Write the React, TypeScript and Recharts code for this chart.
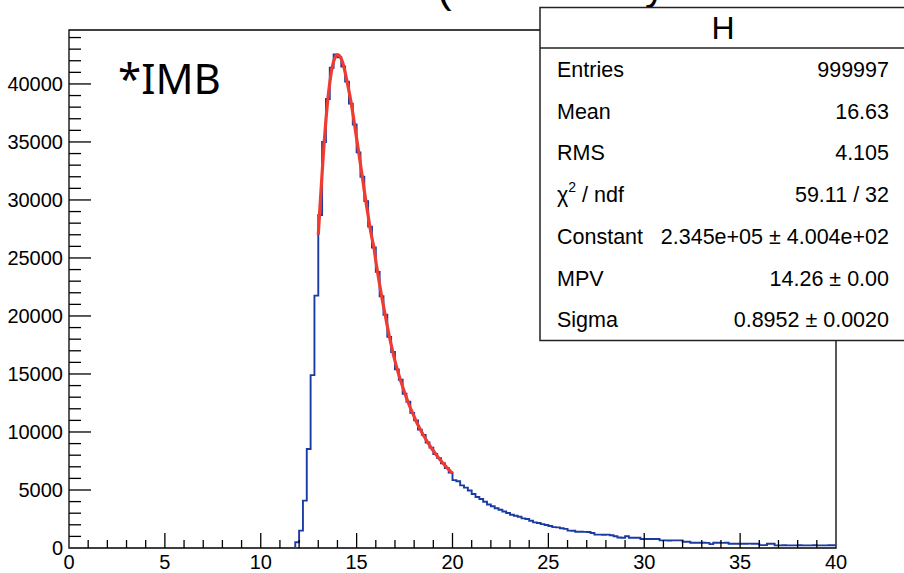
import React from "react";
import { ComposedChart, Line, XAxis, YAxis, ReferenceArea } from "recharts";

// Histogram: 200 bins of width 0.2 from 0 to 40 (counts)
const BIN_WIDTH = 0.2;
const histCounts: number[] = [
  0, 0, 0, 0, 0, 0, 0, 0, 0, 0, 0, 0, 0, 0, 0, 0, 0, 0, 0, 0,
  0, 0, 0, 0, 0, 0, 0, 0, 0, 0, 0, 0, 0, 0, 0, 0, 0, 0, 0, 0,
  0, 0, 0, 0, 0, 0, 0, 0, 0, 0, 0, 0, 0, 0, 0, 0, 0, 0, 0,
  500, 1500, 4080, 8530, 14900, 21750, 28700, 35000, 38700, 41400,
  42550, 42300, 41500, 40200, 38300, 36500, 34100, 32000, 29900, 27700,
  25900, 23800, 21700, 20100, 18200, 16900, 15400, 14500, 13300, 12600,
  11650, 11000, 10200, 9750, 9100, 8650, 8100, 7750, 7300, 6900,
  6500, 5850, 5750, 5400, 5200, 4950, 4650, 4400, 4220, 3990,
  3750, 3600, 3420, 3300, 3150, 3020, 2870, 2780, 2700, 2550,
  2500, 2350, 2210, 2150, 2060, 1980, 1900, 1800, 1780, 1700,
  1650, 1500, 1490, 1400, 1400, 1390, 1380, 1290, 1150, 1150,
  1140, 1150, 1100, 1010, 900, 890, 1010, 890, 880, 890,
  780, 776, 770, 780, 770, 660, 660, 650, 660, 655,
  660, 545, 540, 450, 450, 455, 450, 445, 330, 450,
  450, 445, 450, 370, 370, 365, 370, 370, 375, 370,
  370, 250, 250, 370, 365, 230, 230, 232, 230, 228,
  230, 231, 230, 229, 230, 232, 230, 229, 230, 231,
];

const FIT_START = 13.0;
const FIT_STEP = 0.1;
const fitValues: number[] = [
  27000, 29700, 32300, 34800, 36900, 38700, 40100, 41200, 41950, 42350,
  42500, 42450, 42150, 41700, 41000, 40200, 39400, 38500, 37500, 36400,
  35300, 34200, 33100, 31950, 30800, 29700, 28650, 27600, 26700, 25900,
  24750, 23700, 22700, 21750, 20850, 20000, 19120, 18300, 17530, 16800,
  16130, 15500, 14930, 14400, 13890, 13400, 12940, 12500, 12090, 11700,
  11320, 10950, 10610, 10280, 9970, 9680, 9400, 9130, 8870, 8620,
  8380, 8150, 7930, 7720, 7520, 7320, 7130, 6950, 6770, 6600,
  6430,
];

const xTicks: number[] = [
  0, 1, 2, 3, 4, 5, 6, 7, 8, 9, 10, 11, 12, 13, 14, 15, 16, 17, 18, 19, 20,
  21, 22, 23, 24, 25, 26, 27, 28, 29, 30, 31, 32, 33, 34, 35, 36, 37, 38, 39, 40,
];
const yTicks: number[] = [
  0, 1000, 2000, 3000, 4000, 5000, 6000, 7000, 8000, 9000, 10000, 11000, 12000,
  13000, 14000, 15000, 16000, 17000, 18000, 19000, 20000, 21000, 22000, 23000,
  24000, 25000, 26000, 27000, 28000, 29000, 30000, 31000, 32000, 33000, 34000,
  35000, 36000, 37000, 38000, 39000, 40000, 41000, 42000, 43000, 44000,
];

const X_MAX = 40;
const Y_MAX = 44650;

const statsTitle = "H";
const statsLabels = ["Entries", "Mean", "RMS", "CHI", "Constant", "MPV", "Sigma"];
const statsValues = [
  "999997",
  "16.63",
  "4.105",
  "59.11 / 32",
  "2.345e+05 \u00b1 4.004e+02",
  "14.26 \u00b1 0.00",
  "0.8952 \u00b1 0.0020",
];

const histData = histCounts.map((c, i) => ({ x: +(i * BIN_WIDTH).toFixed(1), h: c }));
histData.push({ x: X_MAX, h: histCounts[histCounts.length - 1] });
const fitData = fitValues.map((v, i) => ({ x: +(FIT_START + i * FIT_STEP).toFixed(1), f: v }));

const FONT = "'Liberation Sans', Arial, Helvetica, sans-serif";

const renderXTick = (props: any) => {
  const { x, y, payload } = props;
  const v = payload.value;
  const major = v % 5 === 0;
  return (
    <g key={"xt" + v}>
      {v !== 0 && v !== X_MAX && (
        <line x1={x} x2={x} y1={y} y2={y - (major ? 15 : 8)} stroke="#000" strokeWidth={1.3} />
      )}
      {major && (
        <text x={x} y={y + 21} textAnchor="middle" fontSize={20} fontFamily={FONT} fill="#000">
          {v}
        </text>
      )}
    </g>
  );
};

const renderYTick = (props: any) => {
  const { x, y, payload } = props;
  const v = payload.value;
  const major = v % 5000 === 0;
  return (
    <g key={"yt" + v}>
      {v !== 0 && (
        <line x1={x} x2={x + (major ? 22 : 12)} y1={y} y2={y} stroke="#000" strokeWidth={1.3} />
      )}
      {major && (
        <text x={x - 6} y={y + 7} textAnchor="end" fontSize={20} fontFamily={FONT} fill="#000">
          {v}
        </text>
      )}
    </g>
  );
};

export default function App() {
  const rowY0 = 70;
  const rowStep = 41.7;
  return (
    <div style={{ position: "absolute", left: 0, top: 0, width: 904, height: 573, overflow: "hidden", background: "#fff" }}>
      <ComposedChart width={904} height={573} margin={{ top: 30, right: 68, bottom: 0, left: 0 }}>
        <XAxis
          type="number"
          dataKey="x"
          domain={[0, X_MAX]}
          ticks={xTicks}
          interval={0}
          allowDataOverflow
          height={25}
          tickSize={0}
          tickMargin={0}
          axisLine={false}
          tickLine={false}
          tick={renderXTick}
        />
        <YAxis
          type="number"
          domain={[0, Y_MAX]}
          ticks={yTicks}
          interval={0}
          allowDataOverflow
          width={69}
          tickSize={0}
          tickMargin={0}
          axisLine={false}
          tickLine={false}
          tick={renderYTick}
        />
        <ReferenceArea x1={0} x2={X_MAX} y1={0} y2={Y_MAX} fill="none" fillOpacity={0} stroke="#000" strokeWidth={1.3} />
        <Line
          data={histData}
          dataKey="h"
          type="stepAfter"
          stroke="#1a3ba3"
          strokeWidth={1.9}
          dot={false}
          isAnimationActive={false}
        />
        <Line
          data={fitData}
          dataKey="f"
          type="monotone"
          stroke="#ef3b30"
          strokeWidth={3.2}
          dot={false}
          isAnimationActive={false}
        />
      </ComposedChart>
      <svg width={904} height={573} style={{ position: "absolute", left: 0, top: 0, pointerEvents: "none" }}>
        <text x={437} y={2} fontSize={44} fontFamily={FONT} fill="#000">(</text>
        <text x={645} y={0} fontSize={40} fontFamily={FONT} fill="#000">y</text>
        <text x={118} y={94} fontSize={42} fontFamily="'Noto Sans', 'Open Sans', sans-serif" fill="#000">*IMB</text>
        <rect x={540} y={7.5} width={370} height={333} fill="#fff" stroke="#222" strokeWidth={1.5} />
        <line x1={540} x2={910} y1={48} y2={48} stroke="#222" strokeWidth={1.5} />
        <text x={723} y={28} textAnchor="middle" dominantBaseline="central" fontSize={32} fontFamily={FONT} fill="#000">
          {statsTitle}
        </text>
        {statsLabels.map((lab, i) => (
          <text key={"l" + i} x={557} y={rowY0 + i * rowStep} dominantBaseline="central" fontSize={21.5} fontFamily={FONT} fill="#000">
            {lab === "CHI" ? (
              <>
                {"\u03c7"}
                <tspan fontSize={14} dy={-8}>2</tspan>
                <tspan dy={8}>{" / ndf"}</tspan>
              </>
            ) : (
              lab
            )}
          </text>
        ))}
        {statsValues.map((val, i) => (
          <text key={"v" + i} x={889} y={rowY0 + i * rowStep} textAnchor="end" dominantBaseline="central" fontSize={21.5} fontFamily={FONT} fill="#000">
            {val}
          </text>
        ))}
      </svg>
    </div>
  );
}
